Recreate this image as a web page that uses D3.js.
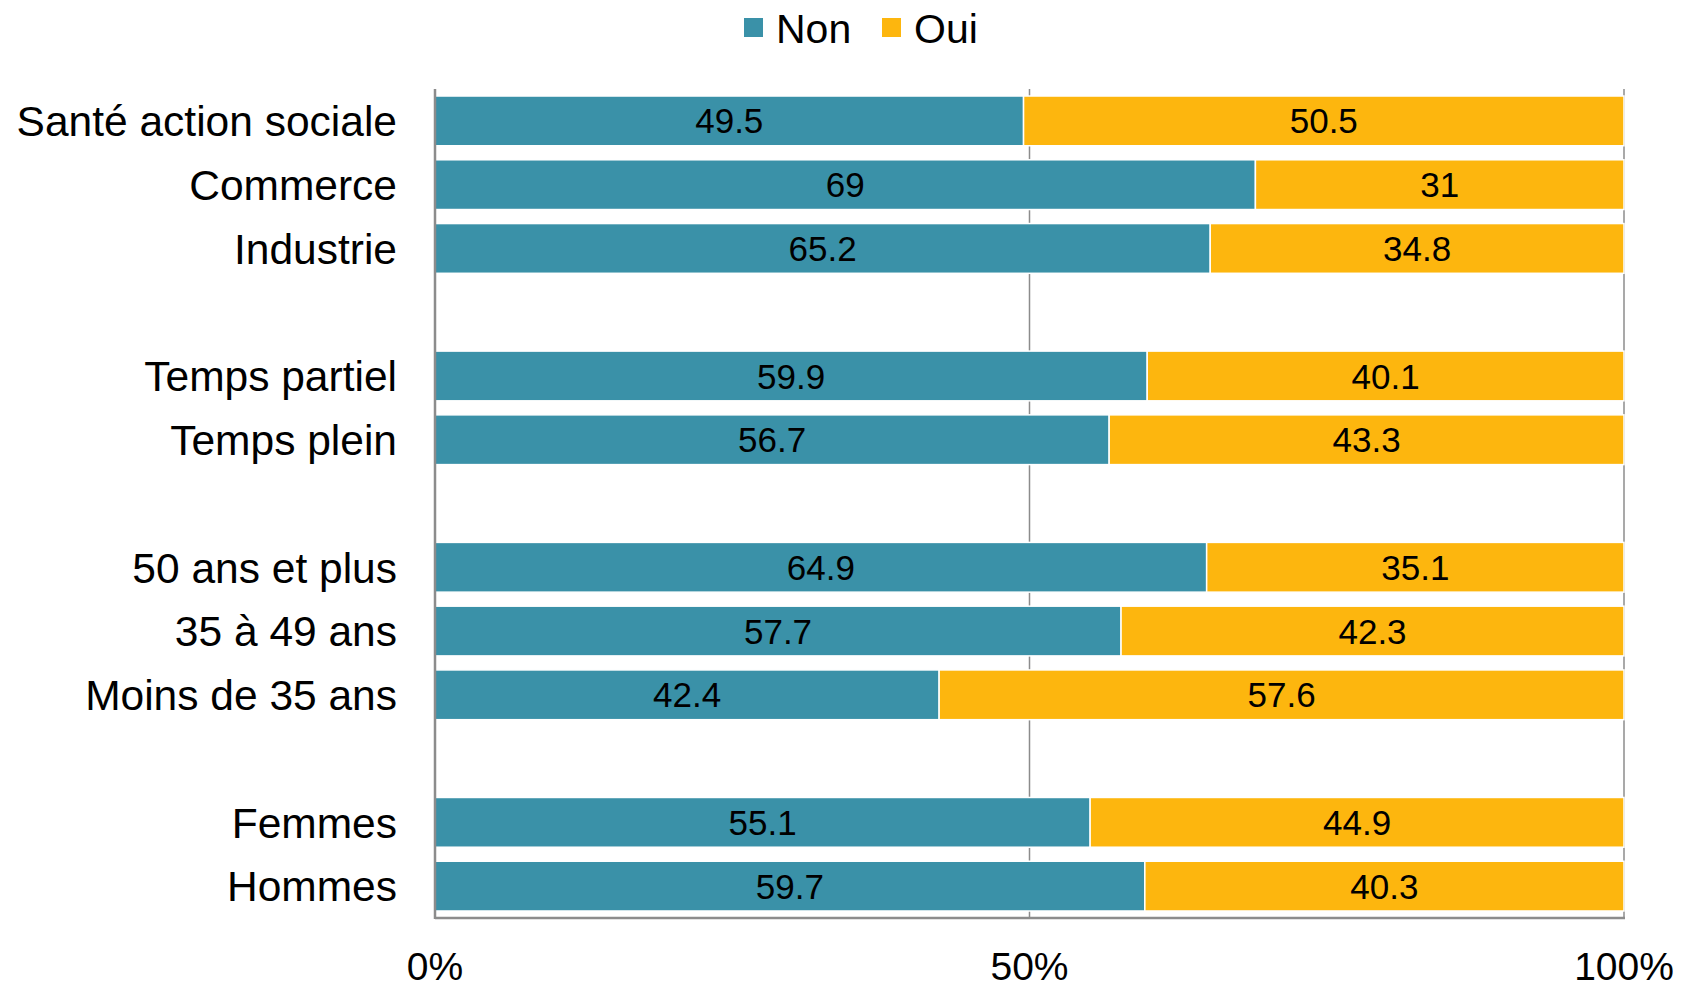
<!DOCTYPE html>
<html>
<head>
<meta charset="utf-8">
<script src="https://cdn.jsdelivr.net/npm/d3@7"></script>
<style>
  body { margin: 0; background: #fff; }
  text { font-family: "Liberation Sans", Arial, sans-serif; }
</style>
</head>
<body>
<div id="chart"></div>
<script>
// categories top to bottom, "gapN" = spacer row
const categories = ["Santé action sociale", "Commerce", "Industrie", "gap1",
    "Temps partiel", "Temps plein", "gap2",
    "50 ans et plus", "35 à 49 ans", "Moins de 35 ans", "gap3",
    "Femmes", "Hommes"];
const nonValues = [49.5, 69, 65.2, null, 59.9, 56.7, null, 64.9, 57.7, 42.4, null, 55.1, 59.7];
const ouiValues = [50.5, 31, 34.8, null, 40.1, 43.3, null, 35.1, 42.3, 57.6, null, 44.9, 40.3];
const seriesNames = ["Non", "Oui"];
const seriesColors = ["#3a91a8", "#fdb60e"];
const xTicks = [0, 50, 100];

const width = 1688, height = 987;
const margin = { left: 435, right: 64, top: 89, bottom: 69 };

const svg = d3.select("#chart").append("svg")
    .attr("width", width)
    .attr("height", height);

const x = d3.scaleLinear().domain([0, 100]).range([margin.left, width - margin.right]);
const y = d3.scaleBand().domain(categories).range([margin.top, height - margin.bottom]).paddingInner(0.22).paddingOuter(0.11);

// gridlines
svg.append("g")
    .selectAll("line")
    .data(xTicks.slice(1))
    .enter()
    .append("line")
    .attr("x1", d => x(d)).attr("x2", d => x(d))
    .attr("y1", margin.top).attr("y2", height - margin.bottom)
    .attr("stroke", "#8c8c8c")
    .attr("stroke-width", 1.5);

const rows = categories.map((c, i) => ({ cat: c, non: nonValues[i], oui: ouiValues[i] }))
    .filter(d => d.non !== null);

const stack = d3.stack().keys(["non", "oui"])(rows);

svg.append("g")
    .selectAll("g")
    .data(stack)
    .enter()
    .append("g")
    .attr("fill", (d, i) => seriesColors[i])
    .selectAll("rect")
    .data(d => d)
    .enter()
    .append("rect")
    .attr("x", d => x(d[0]))
    .attr("y", d => y(d.data.cat))
    .attr("width", d => x(d[1]) - x(d[0]))
    .attr("height", y.bandwidth())
    .attr("stroke", "#fff")
    .attr("stroke-width", 1.5);

// value labels
stack.forEach(s => {
    svg.append("g")
        .selectAll("text")
        .data(s)
        .enter()
        .append("text")
        .attr("x", d => (x(d[0]) + x(d[1])) / 2)
        .attr("y", d => y(d.data.cat) + y.bandwidth() / 2)
        .attr("dy", "0.36em")
        .attr("text-anchor", "middle")
        .attr("font-size", 35)
        .attr("fill", "#000")
        .text(d => d.data[s.key]);
});

// axes lines
svg.append("line")
    .attr("x1", x(0)).attr("x2", x(0))
    .attr("y1", margin.top).attr("y2", height - margin.bottom + 1)
    .attr("stroke", "#8c8c8c").attr("stroke-width", 2.5);
svg.append("line")
    .attr("x1", x(0)).attr("x2", x(100) + 1)
    .attr("y1", height - margin.bottom).attr("y2", height - margin.bottom)
    .attr("stroke", "#8c8c8c").attr("stroke-width", 2.5);

// category labels
svg.append("g")
    .selectAll("text")
    .data(rows)
    .enter()
    .append("text")
    .attr("x", 397)
    .attr("y", d => y(d.cat) + y.bandwidth() / 2)
    .attr("dy", "0.36em")
    .attr("text-anchor", "end")
    .attr("font-size", 42.5)
    .text(d => d.cat);

// x tick labels
svg.append("g")
    .selectAll("text")
    .data(xTicks)
    .enter()
    .append("text")
    .attr("x", d => x(d))
    .attr("y", 980)
    .attr("text-anchor", "middle")
    .attr("font-size", 39)
    .text(d => d + "%");

// legend
const legendX = [744, 882];
const legend = svg.append("g")
    .selectAll("g")
    .data(seriesNames)
    .enter()
    .append("g")
    .attr("transform", (d, i) => "translate(" + legendX[i] + ",18)");
legend.append("rect")
    .attr("width", 19).attr("height", 19)
    .attr("fill", (d, i) => seriesColors[i]);
legend.append("text")
    .attr("x", 32)
    .attr("y", 10)
    .attr("dy", "0.36em")
    .attr("font-size", 41)
    .text(d => d);
</script>
</body>
</html>
